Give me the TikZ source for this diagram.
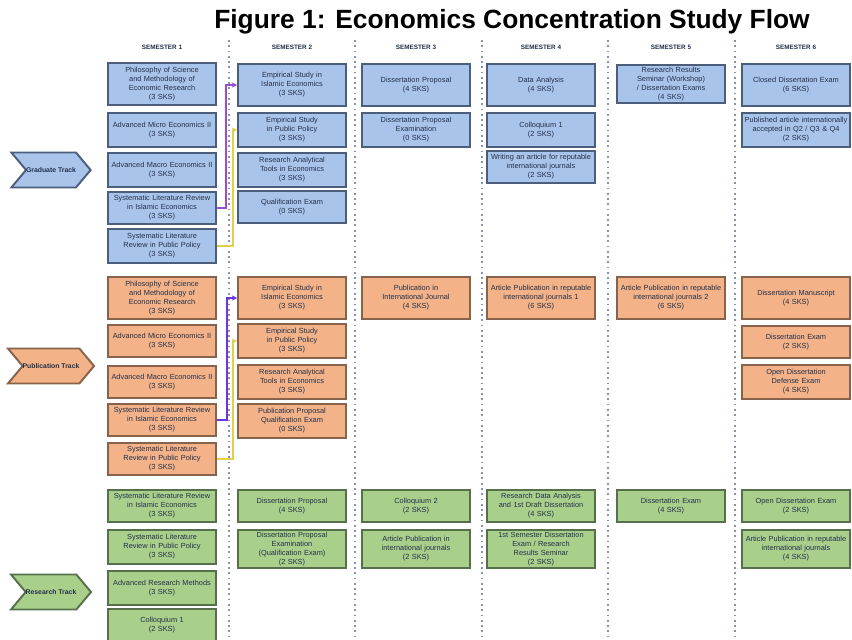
\documentclass[tikz,border=0pt]{standalone}
\usepackage{fontspec}
\setmainfont{Liberation Sans}
\usetikzlibrary{arrows.meta,positioning,shapes.symbols}
\hyphenpenalty=10000
\exhyphenpenalty=10000
\definecolor{gradfill}{HTML}{A9C4EA}
\definecolor{graddraw}{HTML}{4B5E7C}
\definecolor{pubfill}{HTML}{F3B287}
\definecolor{pubdraw}{HTML}{86634A}
\definecolor{resfill}{HTML}{A8D08B}
\definecolor{resdraw}{HTML}{55704A}
\definecolor{boxtext}{HTML}{22304A}
\definecolor{sepdots}{HTML}{8C93A8}
\definecolor{linkviolet}{HTML}{9A4CD0}
\definecolor{linkyellow}{HTML}{E2D04A}
\tikzset{
	course/.style={draw,rectangle,align=center,line width=1.1pt,text width=2.06cm,minimum width=2.16cm,inner sep=1pt,text=boxtext,font=\fontsize{4.2}{5.1}\selectfont},
	grad/.style={course,fill=gradfill,draw=graddraw},
	pub/.style={course,fill=pubfill,draw=pubdraw},
	res/.style={course,fill=resfill,draw=resdraw},
	track/.style={signal,signal from=west,signal to=east,signal pointer angle=100,draw,line width=1.1pt,minimum width=1.2cm,minimum height=0.7cm,inner xsep=0pt,inner ysep=1pt,text=boxtext,font=\fontsize{3.9}{4.5}\selectfont\bfseries},
	sem/.style={font=\fontsize{3.6}{4}\selectfont\bfseries,text=boxtext},
	sep/.style={dotted,line width=1pt,draw=sepdots},
	link/.style={-{Stealth[length=3pt,width=3pt]},line width=0.8pt},
	h42/.style={minimum height=0.84cm},
	h34/.style={minimum height=0.68cm},
	h32/.style={minimum height=0.64cm},
	h38/.style={minimum height=0.76cm}
}

\begin{document}
\begin{tikzpicture}[x=0.02cm,y=-0.02cm]
		\useasboundingbox[fill=white] (0,0) rectangle (852,639);
		
		\node[font=\fontsize{15}{17}\selectfont\bfseries] (title) at (512,22) {Figure 1: Economics Concentration Study Flow};
		
		% semester headers
		\node[sem] (s1) at (162,47) {SEMESTER 1};
		\node[sem] (s2) at (292,47) {SEMESTER 2};
		\node[sem] (s3) at (416,47) {SEMESTER 3};
		\node[sem] (s4) at (541,47) {SEMESTER 4};
		\node[sem] (s5) at (671,47) {SEMESTER 5};
		\node[sem] (s6) at (796,47) {SEMESTER 6};
		
		\draw[sep] (229,40) -- (229,639);
		\draw[sep] (355,40) -- (355,639);
		\draw[sep] (482,40) -- (482,639);
		\draw[sep] (608,40) -- (608,639);
		\draw[sep] (735,40) -- (735,639);
		
		% tracks
		\node[track,fill=gradfill,draw=graddraw] (gtrack) at (51,170) {Graduate Track};
		\node[track,fill=pubfill,draw=pubdraw] (ptrack) at (51,366) {Publication Track};
		\node[track,fill=resfill,draw=resdraw] (rtrack) at (51,592) {Research Track};
		
		% graduate track
		\node[grad,h42] (g11) at (162,84) {Philosophy of Science and Methodology of Economic Research\\(3 SKS)};
		\node[grad,h34] (g12) at (162,130) {Advanced Micro Economics II\\(3 SKS)};
		\node[grad,h34] (g13) at (162,170) {Advanced Macro Economics II\\(3 SKS)};
		\node[grad,h32] (g14) at (162,208) {Systematic Literature Review in Islamic Economics\\(3 SKS)};
		\node[grad,h34] (g15) at (162,246) {Systematic Literature Review in Public Policy\\(3 SKS)};
		
		\node[grad,h42] (g21) at (292,85) {Empirical Study in Islamic Economics\\(3 SKS)};
		\node[grad,h34] (g22) at (292,130) {Empirical Study in Public Policy\\(3 SKS)};
		\node[grad,h34] (g23) at (292,170) {Research Analytical Tools in Economics\\(3 SKS)};
		\node[grad,h32] (g24) at (292,207) {Qualification Exam\\(0 SKS)};
		
		\node[grad,h42] (g31) at (416,85) {Dissertation Proposal\\(4 SKS)};
		\node[grad,h34] (g32) at (416,130) {Dissertation Proposal Examination\\(0 SKS)};
		
		\node[grad,h42] (g41) at (541,85) {Data Analysis\\(4 SKS)};
		\node[grad,h34] (g42) at (541,130) {Colloquium 1\\(2 SKS)};
		\node[grad,h32] (g43) at (541,167) {Writing an article for reputable international journals\\(2 SKS)};
		
		\node[grad,h38] (g51) at (671,84) {Research Results Seminar (Workshop) / Dissertation Exams\\(4 SKS)};
		
		\node[grad,h42] (g61) at (796,85) {Closed Dissertation Exam\\(6 SKS)};
		\node[grad,h34] (g62) at (796,130) {Published article internationally accepted in Q2 / Q3 \& Q4\\(2 SKS)};
		
		\draw[link,draw=linkviolet] (g14.east) -- (226,208) |- (g21.west);
		\draw[link,draw=linkyellow] (g15.east) -- (233,246) |- (g22.west);
		
		% publication track
		\node[pub,h42] (p11) at (162,298) {Philosophy of Science and Methodology of Economic Research\\(3 SKS)};
		\node[pub,h32] (p12) at (162,341) {Advanced Micro Economics II\\(3 SKS)};
		\node[pub,h32] (p13) at (162,382) {Advanced Macro Economics II\\(3 SKS)};
		\node[pub,h32] (p14) at (162,420) {Systematic Literature Review in Islamic Economics\\(3 SKS)};
		\node[pub,h32] (p15) at (162,459) {Systematic Literature Review in Public Policy\\(3 SKS)};
		
		\node[pub,h42] (p21) at (292,298) {Empirical Study in Islamic Economics\\(3 SKS)};
		\node[pub,h34] (p22) at (292,341) {Empirical Study in Public Policy\\(3 SKS)};
		\node[pub,h34] (p23) at (292,382) {Research Analytical Tools in Economics\\(3 SKS)};
		\node[pub,h34] (p24) at (292,421) {Publication Proposal Qualification Exam\\(0 SKS)};
		
		\node[pub,h42] (p31) at (416,298) {Publication in International Journal\\(4 SKS)};
		\node[pub,h42] (p41) at (541,298) {Article Publication in reputable international journals 1\\(6 SKS)};
		\node[pub,h42] (p51) at (671,298) {Article Publication in reputable international journals 2\\(6 SKS)};
		
		\node[pub,h42] (p61) at (796,298) {Dissertation Manuscript\\(4 SKS)};
		\node[pub,h32] (p62) at (796,342) {Dissertation Exam\\(2 SKS)};
		\node[pub,h34] (p63) at (796,382) {Open Dissertation Defense Exam\\(4 SKS)};
		
		\draw[link,draw=linkviolet!70!blue] (p14.east) -- (227,420) |- (p21.west);
		\draw[link,draw=linkyellow] (p15.east) -- (233,459) |- (p22.west);
		
		% research track
		\node[res,h32] (r11) at (162,506) {Systematic Literature Review in Islamic Economics\\(3 SKS)};
		\node[res,h34] (r12) at (162,547) {Systematic Literature Review in Public Policy\\(3 SKS)};
		\node[res,h34] (r13) at (162,588) {Advanced Research Methods\\(3 SKS)};
		\node[res,h32] (r14) at (162,625) {Colloquium 1\\(2 SKS)};
		
		\node[res,h32] (r21) at (292,506) {Dissertation Proposal\\(4 SKS)};
		\node[res,h38] (r22) at (292,549) {Dissertation Proposal Examination (Qualification Exam)\\(2 SKS)};
		
		\node[res,h32] (r31) at (416,506) {Colloquium 2\\(2 SKS)};
		\node[res,h38] (r32) at (416,549) {Article Publication in international journals\\(2 SKS)};
		
		\node[res,h32] (r41) at (541,506) {Research Data Analysis and 1st Draft Dissertation\\(4 SKS)};
		\node[res,h38] (r42) at (541,549) {1st Semester Dissertation Exam / Research Results Seminar\\(2 SKS)};
		
		\node[res,h32] (r51) at (671,506) {Dissertation Exam\\(4 SKS)};
		
		\node[res,h32] (r61) at (796,506) {Open Dissertation Exam\\(2 SKS)};
		\node[res,h38] (r62) at (796,549) {Article Publication in reputable international journals\\(4 SKS)};
\end{tikzpicture}
\end{document}
